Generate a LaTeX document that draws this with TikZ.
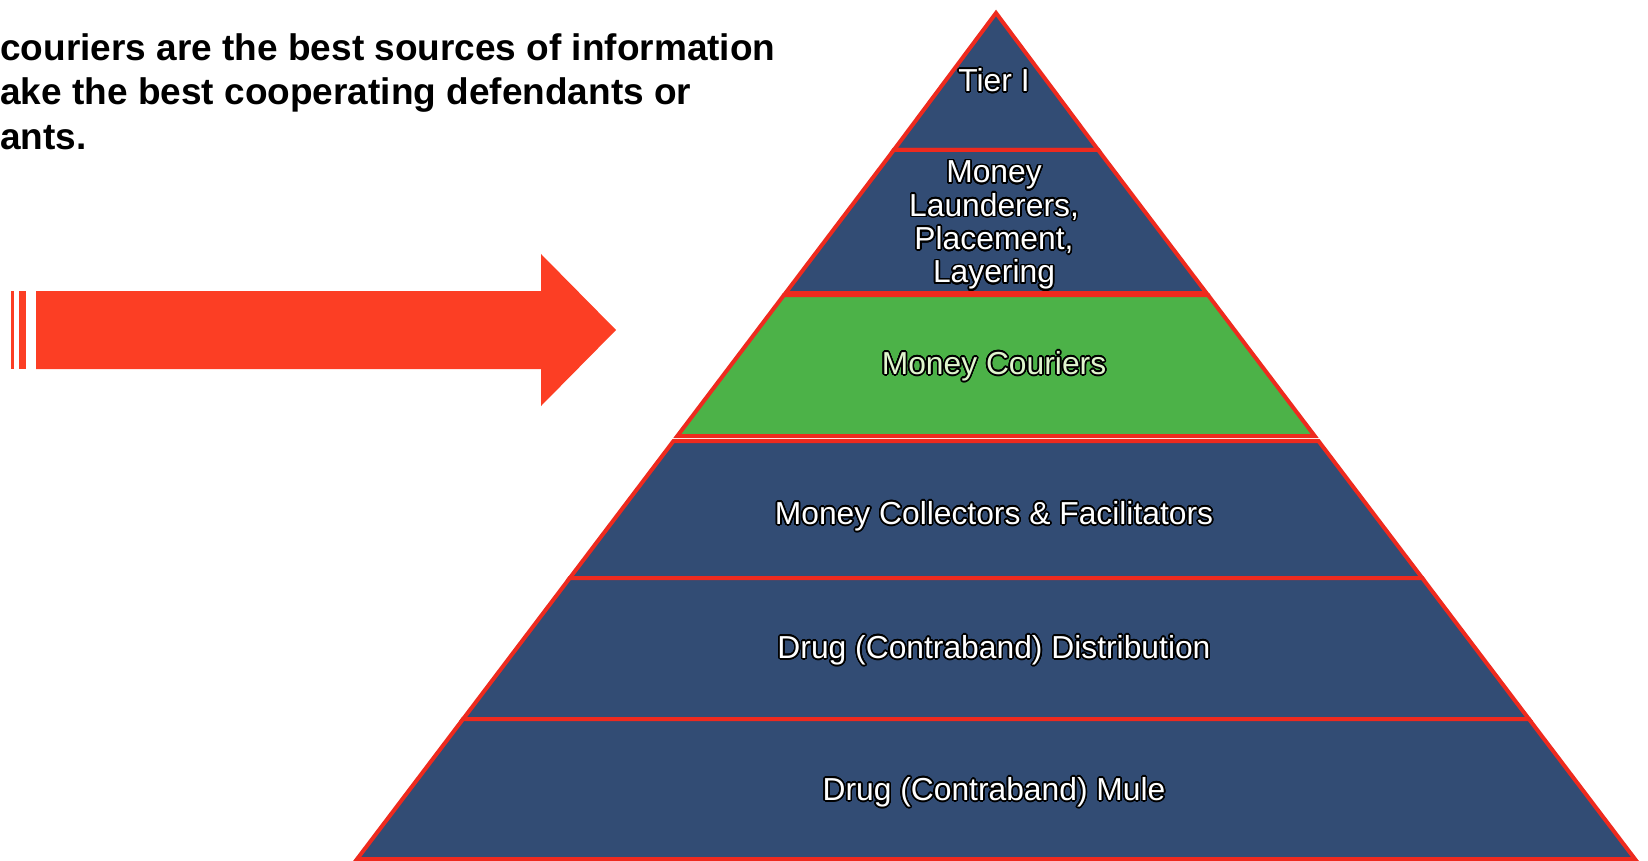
\documentclass[tikz,border=0pt]{standalone}
\usepackage{fontspec}
\setmainfont{Liberation Sans}
\usepackage{contour}
\contourlength{0.8pt}
\contournumber{24}
\definecolor{pyrblue}{RGB}{50,76,116}
\definecolor{pyrgreen}{RGB}{76,178,72}
\definecolor{edgered}{RGB}{238,42,30}
\definecolor{arrowred}{RGB}{252,62,36}
\definecolor{palegreen}{RGB}{224,246,206}
\begin{document}
\begin{tikzpicture}[x=0.5pt,y=-0.5pt,
  layerbox/.style={draw=edgered, line width=2pt, line join=miter, fill=pyrblue},
  greenbox/.style={layerbox, fill=pyrgreen},
  lbl/.style={font=\fontsize{15.9}{16.7}\selectfont, align=center, text=white, inner sep=0pt},
  headtext/.style={font=\fontsize{18.5}{22.25}\selectfont\bfseries, inner sep=0pt, anchor=base west},
  bigarrow/.style={fill=arrowred, draw=none}]
\useasboundingbox (0,0) rectangle (1648,861);
% heading text
\node[headtext] (head1) at (0,61) {couriers are the best sources of information};
\node[headtext] (head2) at (0,105) {ake the best cooperating defendants or};
\node[headtext] (head3) at (0,150) {ants.};
% arrow
\fill[bigarrow] (11,291) rectangle (14,369);
\fill[bigarrow] (18.5,291) rectangle (26,369);
\fill[bigarrow] (36,291) -- (541,291) -- (541,254) -- (616,330) -- (541,406) -- (541,369) -- (36,369) -- cycle;
% pyramid layers
\draw[layerbox] (996,13) -- (1098.2,150) -- (893.8,150) -- cycle;
\draw[layerbox] (893.8,150) -- (1098.2,150) -- (1206.4,293) -- (785.6,293) -- cycle;
\draw[greenbox] (784,295) -- (1208,295) -- (1314.7,436) -- (677.3,436) -- cycle;
\draw[layerbox] (673.5,441) -- (1318.5,441) -- (1422.2,578) -- (569.8,578) -- cycle;
\draw[layerbox] (569.8,578) -- (1422.2,578) -- (1528.9,719) -- (463.1,719) -- cycle;
\draw[layerbox] (463.1,719) -- (1528.9,719) -- (1634.9,859) -- (357.1,859) -- cycle;
% labels
\node[lbl] (tier) at (994,81) {\contour{black}{Tier I}};
\node[lbl] (laund) at (994,226) {\contour{black}{Money}\\\contour{black}{Launderers,}\\\contour{black}{Placement,}\\\contour{black}{Layering}};
\node[lbl, text=palegreen] (cour) at (994,367) {\contour{black}{Money Couriers}};
\node[lbl] (coll) at (994,517) {\contour{black}{Money Collectors \& Facilitators}};
\node[lbl] (dist) at (994,651) {\contour{black}{Drug (Contraband) Distribution}};
\node[lbl] (mule) at (994,793) {\contour{black}{Drug (Contraband) Mule}};
\end{tikzpicture}
\end{document}
